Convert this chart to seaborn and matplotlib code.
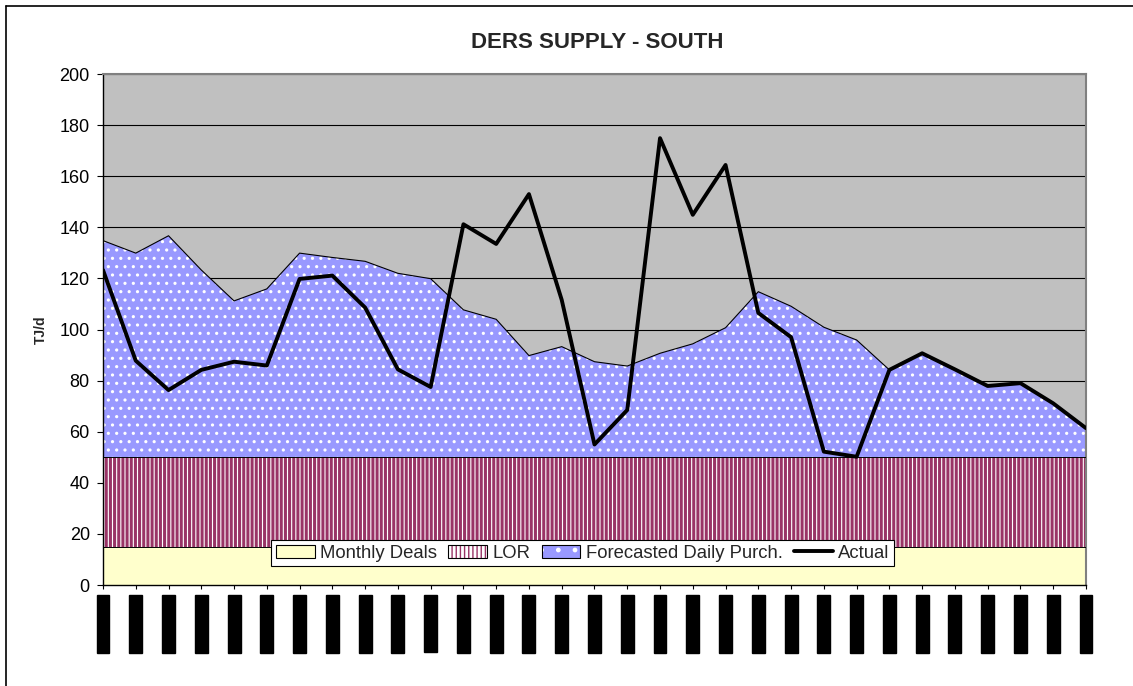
import numpy as np
import matplotlib
matplotlib.use("Agg")
import matplotlib.pyplot as plt
import seaborn as sns
from matplotlib.patches import Patch
from matplotlib.lines import Line2D

# ---- data ----
days = list(range(31))
day_labels = [f"{d:02d}-Jul-2003" for d in range(1, 32)]

monthly_deals = [15] * 31
lor = [35] * 31
forecast_daily = [84.8, 79.9, 86.7, 73.3, 61.2, 65.9, 79.9, 78.2, 76.7, 72.0,
                  69.9, 57.7, 54.0, 39.8, 43.3, 37.4, 35.7, 40.7, 44.4, 50.7,
                  64.8, 59.1, 50.9, 45.9, 34.2, 40.7, 34.4, 27.9, 29.0, 21.1, 11.4]
actual = [123.3, 87.8, 76.3, 84.2, 87.4, 85.9, 119.8, 121.1, 108.6, 84.4,
          77.5, 141.2, 133.5, 153.0, 111.6, 55.0, 68.5, 174.9, 144.9, 164.4,
          106.5, 97.0, 52.2, 50.2, 84.2, 90.7, 84.4, 77.9, 79.0, 71.1, 61.4]

# colours
yellow = "#FFFFCC"
purple = "#993366"
blue = "#9999FF"
plot_grey = "#C0C0C0"

sns.set_style("white")
plt.rcParams["font.family"] = ["Liberation Sans", "DejaVu Sans"]

fig = plt.figure(figsize=(11.33, 6.86), dpi=100)
ax = fig.add_axes([0.0909, 0.1472, 0.8676, 0.7449])
ax.set_facecolor(plot_grey)

# stacked areas
x = np.array(days)
y1 = np.array(monthly_deals)
y2 = y1 + np.array(lor)
y3 = y2 + np.array(forecast_daily)

ax.fill_between(x, 0, y1, facecolor=yellow, edgecolor="none", zorder=2)
with plt.rc_context({"hatch.linewidth": 2.2}):
    lor_fill = ax.fill_between(x, y1, y2, facecolor="white", edgecolor=purple,
                               hatch="||||", linewidth=0, zorder=2)
    h_lor_fill = Patch(facecolor="white", edgecolor=purple, hatch="||||", lw=0)
with plt.rc_context({"hatch.linewidth": 1.1}):
    fc_fill = ax.fill_between(x, y2, y3, facecolor=blue, edgecolor="white",
                              hatch="..", linewidth=0, zorder=2)
    h_fc_fill = Patch(facecolor=blue, edgecolor="white", hatch=".", lw=0)
for coll, lw in ((lor_fill, 2.2), (h_lor_fill, 2.2), (fc_fill, 1.1), (h_fc_fill, 1.1)):
    if hasattr(coll, "set_hatch_linewidth"):
        coll.set_hatch_linewidth(lw)

# thin outlines of the stacked areas
ax.plot(x, y1, color="black", lw=0.7, zorder=3)
ax.plot(x, y2, color="black", lw=0.7, zorder=3)
ax.plot(x, y3, color="black", lw=0.8, zorder=3)

# actual line
sns.lineplot(x=x, y=actual, color="black", lw=2.8, ax=ax, zorder=4)

# axes
ax.set_xlim(0, 30)
ax.set_ylim(0, 200)
ax.set_yticks(range(0, 201, 20))
ax.yaxis.grid(True, color="black", lw=0.8)
ax.xaxis.grid(False)
ax.set_axisbelow(True)

ax.tick_params(axis="y", direction="out", length=4.5, width=0.8, pad=5,
               labelsize=13, left=True, colors="black")
ax.set_xticks(days)
ax.set_xticklabels(day_labels, rotation=90, fontsize=7.6, color="black",
                   va="top", ha="center")
for lab in ax.get_xticklabels():
    lab.set_bbox(dict(facecolor="black", edgecolor="black",
                      boxstyle="square,pad=0.14"))
ax.tick_params(axis="x", direction="out", length=3, width=0.8, pad=5,
               bottom=True, colors="black")

for side in ("left", "bottom"):
    ax.spines[side].set_color("black")
    ax.spines[side].set_linewidth(1.0)
for side in ("top", "right"):
    ax.spines[side].set_color("#808080")
    ax.spines[side].set_linewidth(1.5)

ax.set_ylabel("TJ/d", fontsize=10, fontweight="bold")
ax.yaxis.set_label_coords(-0.056, 0.5)

fig.text(0.527, 0.938, "DERS SUPPLY - SOUTH", fontsize=16,
         fontweight="bold", ha="center", va="center")

# legend
h_md = Patch(facecolor=yellow, edgecolor="black", lw=0.8)
h_lor = (h_lor_fill, Patch(facecolor="none", edgecolor="black", lw=0.8))
h_fc = (h_fc_fill, Patch(facecolor="none", edgecolor="black", lw=0.8))
h_act = Line2D([], [], color="black", lw=2.8)
leg = ax.legend([h_md, h_lor, h_fc, h_act],
                ["Monthly Deals", "LOR", "Forecasted Daily Purch.", "Actual"],
                loc="center", bbox_to_anchor=(0.488, 0.062), ncol=4,
                fontsize=13.3, frameon=True, fancybox=False, framealpha=1,
                edgecolor="black", handlelength=2.1, handleheight=0.7,
                handletextpad=0.3, columnspacing=0.6, borderpad=0.25,
                borderaxespad=0)
leg.get_frame().set_linewidth(0.8)
leg.set_zorder(5)

# outer chart border (left and top visible)
fig.add_artist(Line2D([6 / 1133, 6 / 1133], [0, 1 - 6 / 686],
                      color="black", lw=1.2, transform=fig.transFigure))
fig.add_artist(Line2D([6 / 1133, 1], [1 - 6 / 686, 1 - 6 / 686],
                      color="black", lw=1.2, transform=fig.transFigure))

fig.savefig("out.png", dpi=100)
